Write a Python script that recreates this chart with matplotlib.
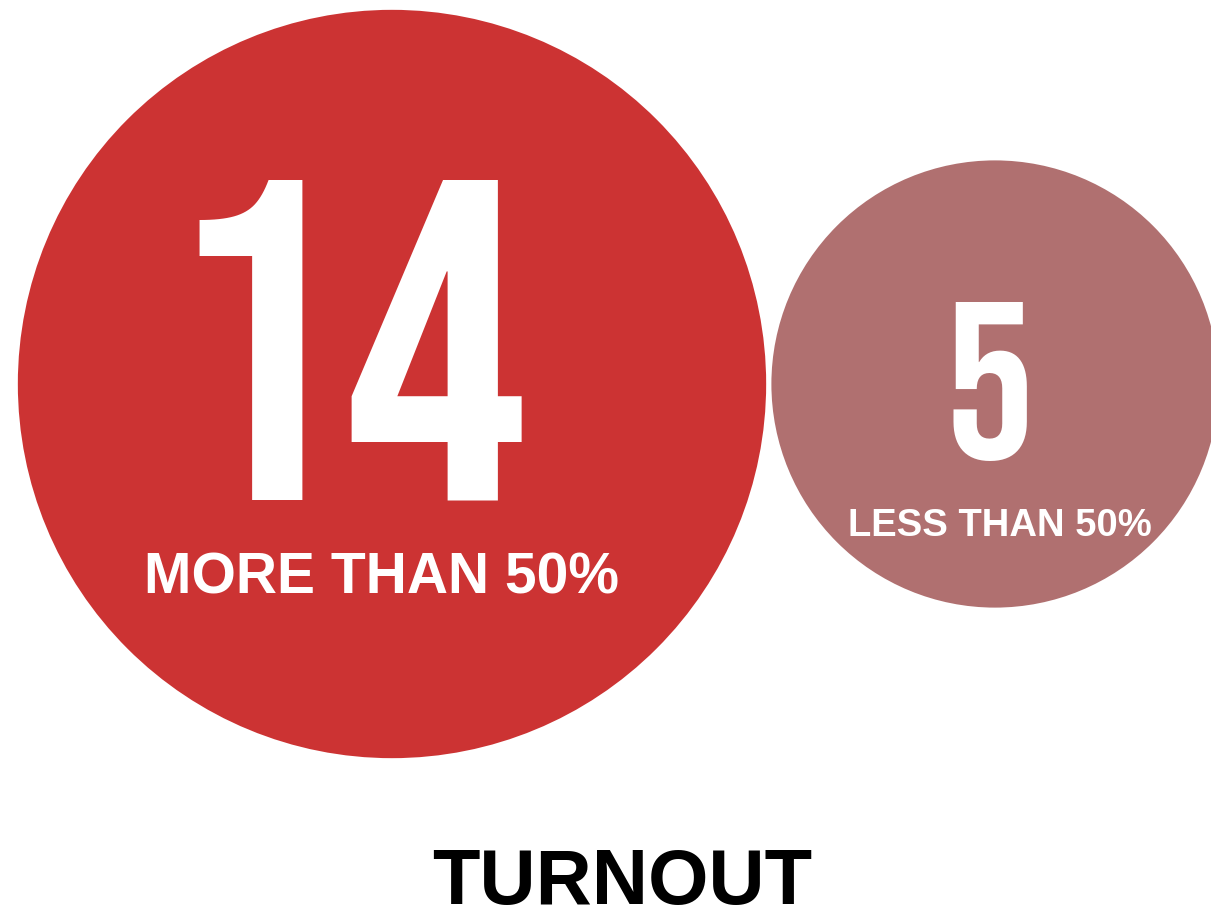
import numpy as np
import matplotlib
matplotlib.use("Agg")
import matplotlib.pyplot as plt
from matplotlib.patches import Circle

# Data
counts = [14, 5]
labels = ["MORE THAN 50%", "LESS THAN 50%"]
colors = ["#CC3333", "#B07070"]
title = "TURNOUT"

# Layout (pixel space, y down)
W, H = 1211, 911
centres = [(392, 384), (995, 384)]
px_per_unit = 100.0  # radius = k * sqrt(count) -> area proportional to count

# text placement per circle: (dx, baseline dy) relative to centre, font size
num_pos = [(-47, 115), (-6, 75)]
num_size = [329, 161]
lab_pos = [(-10, 210), (5, 152)]
lab_size = [41, 27.5]

fig = plt.figure(figsize=(W / 100, H / 100), dpi=100)
ax = fig.add_axes([0, 0, 1, 1])
ax.set_xlim(0, W)
ax.set_ylim(H, 0)
ax.set_aspect("equal")
ax.axis("off")

num_font = ["Bebas Neue", "DejaVu Sans"]
lab_font = ["Liberation Sans", "DejaVu Sans"]

for i, ((cx, cy), n, lab, col) in enumerate(zip(centres, counts, labels, colors)):
    r = px_per_unit * np.sqrt(n)
    ax.add_patch(Circle((cx, cy), r, facecolor=col, edgecolor="none"))
    ax.text(cx + num_pos[i][0], cy + num_pos[i][1], str(n), ha="center", va="baseline",
            fontsize=num_size[i], color="white", family=num_font)
    ax.text(cx + lab_pos[i][0], cy + lab_pos[i][1], lab, ha="center", va="baseline",
            fontsize=lab_size[i], fontweight="bold", color="white", family=lab_font)

ax.text(622, 904, title, ha="center", va="baseline", fontsize=56,
        fontweight="bold", color="black", family=lab_font)

fig.savefig("out.png", dpi=100)
